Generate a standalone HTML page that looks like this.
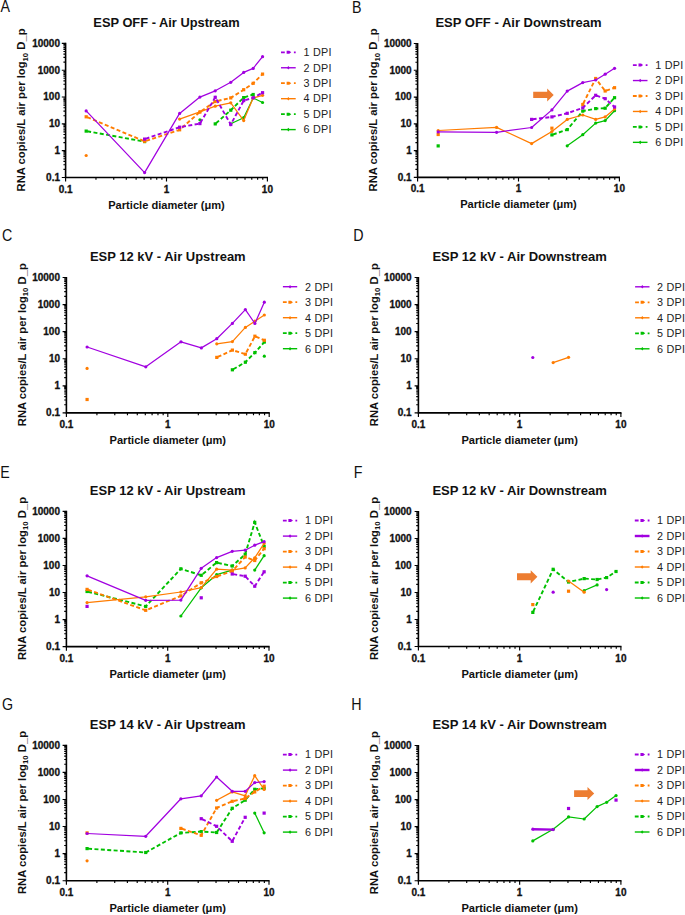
<!DOCTYPE html>
<html><head><meta charset="utf-8"><style>
html,body{margin:0;padding:0;background:#fff;}
svg{display:block;}
text{font-family:"Liberation Sans",sans-serif;}
.tk{font-size:10px;font-weight:bold;fill:#111;stroke:#111;stroke-width:0.3px;}
.xt{font-size:11.1px;font-weight:bold;fill:#111;}
.ti{font-size:13.1px;font-weight:bold;fill:#111;}
.yl{font-size:11.25px;font-weight:bold;fill:#111;}
.sub{font-size:7.8px;}
.lt{font-size:16.2px;fill:#111;}
.lg{font-size:10.8px;fill:#222;letter-spacing:0.25px;}
</style></head><body>
<svg width="685" height="915" viewBox="0 0 685 915">
<path d="M65.6 42.8V177.5H268" stroke="#000" stroke-width="1.6" fill="none"/>
<path d="M61.8 177.5H65.6M63.4 169.43H65.6M63.4 164.7H65.6M63.4 161.35H65.6M63.4 158.75H65.6M63.4 156.63H65.6M63.4 154.83H65.6M63.4 153.28H65.6M63.4 151.91H65.6M61.8 150.68H65.6M63.4 142.61H65.6M63.4 137.88H65.6M63.4 134.53H65.6M63.4 131.93H65.6M63.4 129.81H65.6M63.4 128.01H65.6M63.4 126.46H65.6M63.4 125.09H65.6M61.8 123.86H65.6M63.4 115.79H65.6M63.4 111.06H65.6M63.4 107.71H65.6M63.4 105.11H65.6M63.4 102.99H65.6M63.4 101.19H65.6M63.4 99.64H65.6M63.4 98.27H65.6M61.8 97.04H65.6M63.4 88.97H65.6M63.4 84.24H65.6M63.4 80.89H65.6M63.4 78.29H65.6M63.4 76.17H65.6M63.4 74.37H65.6M63.4 72.82H65.6M63.4 71.45H65.6M61.8 70.22H65.6M63.4 62.15H65.6M63.4 57.42H65.6M63.4 54.07H65.6M63.4 51.47H65.6M63.4 49.35H65.6M63.4 47.55H65.6M63.4 46H65.6M63.4 44.63H65.6M61.8 43.4H65.6M65.6 177.5V181.6M95.97 177.5V179.8M113.74 177.5V179.8M126.35 177.5V179.8M136.13 177.5V179.8M144.12 177.5V179.8M150.87 177.5V179.8M156.72 177.5V179.8M161.88 177.5V179.8M166.5 177.5V181.6M196.87 177.5V179.8M214.64 177.5V179.8M227.25 177.5V179.8M237.03 177.5V179.8M245.02 177.5V179.8M251.77 177.5V179.8M257.62 177.5V179.8M262.78 177.5V179.8M267.4 177.5V181.6" stroke="#000" stroke-width="1.15" fill="none"/>
<text x="60" y="180.8" class="tk" text-anchor="end">0.1</text>
<text x="60" y="153.98" class="tk" text-anchor="end">1</text>
<text x="60" y="127.16" class="tk" text-anchor="end">10</text>
<text x="60" y="100.34" class="tk" text-anchor="end">100</text>
<text x="60" y="73.52" class="tk" text-anchor="end">1000</text>
<text x="60" y="46.7" class="tk" text-anchor="end">10000</text>
<text x="65.6" y="192.5" class="tk" text-anchor="middle">0.1</text>
<text x="166.5" y="192.5" class="tk" text-anchor="middle">1</text>
<text x="267.4" y="192.5" class="tk" text-anchor="middle">10</text>
<text x="166.5" y="208.5" class="xt" text-anchor="middle">Particle diameter (μm)</text>
<text x="166.5" y="27.1" class="ti" style="font-size:12.85px" text-anchor="middle">ESP OFF - Air Upstream</text>
<text transform="translate(25,109.95) rotate(-90)" class="yl" text-anchor="middle">RNA copies/L air per log<tspan class="sub" dy="2.6">10</tspan><tspan dy="-2.6"> D_p</tspan></text>
<text transform="translate(0.6,11.7) scale(0.88,1)" class="lt">A</text>
<circle cx="199.9" cy="119.8" r="1.6" fill="#00c000"/>
<polyline points="230.77,123.8 243.69,117.7 253.17,98 262.56,102.5" fill="none" stroke="#00c000" stroke-width="1.25" stroke-linejoin="round"/>
<circle cx="230.77" cy="123.8" r="1.6" fill="#00c000"/>
<circle cx="243.69" cy="117.7" r="1.6" fill="#00c000"/>
<circle cx="253.17" cy="98" r="1.6" fill="#00c000"/>
<circle cx="262.56" cy="102.5" r="1.6" fill="#00c000"/>
<polyline points="86.18,131.1 144.6,141.6" fill="none" stroke="#00c000" stroke-width="1.9" stroke-dasharray="4 2.4" stroke-dashoffset="-1"/>
<rect x="84.58" y="129.5" width="3.2" height="3.2" fill="#00c000"/>
<rect x="143" y="140" width="3.2" height="3.2" fill="#00c000"/>
<polyline points="215.23,123.9 230.77,110.2 243.69,97.6 253.17,94.5" fill="none" stroke="#00c000" stroke-width="1.9" stroke-dasharray="4 2.4" stroke-dashoffset="-1"/>
<rect x="213.63" y="122.3" width="3.2" height="3.2" fill="#00c000"/>
<rect x="229.17" y="108.6" width="3.2" height="3.2" fill="#00c000"/>
<rect x="242.09" y="96" width="3.2" height="3.2" fill="#00c000"/>
<rect x="251.57" y="92.9" width="3.2" height="3.2" fill="#00c000"/>
<circle cx="86.18" cy="155.5" r="1.6" fill="#ff7c00"/>
<polyline points="179.62,119.1 199.9,111.9 215.23,106.2 230.77,102.8 243.69,120.6 253.17,98 262.56,95.3" fill="none" stroke="#ff7c00" stroke-width="1.25" stroke-linejoin="round"/>
<circle cx="179.62" cy="119.1" r="1.6" fill="#ff7c00"/>
<circle cx="199.9" cy="111.9" r="1.6" fill="#ff7c00"/>
<circle cx="215.23" cy="106.2" r="1.6" fill="#ff7c00"/>
<circle cx="230.77" cy="102.8" r="1.6" fill="#ff7c00"/>
<circle cx="243.69" cy="120.6" r="1.6" fill="#ff7c00"/>
<circle cx="253.17" cy="98" r="1.6" fill="#ff7c00"/>
<circle cx="262.56" cy="95.3" r="1.6" fill="#ff7c00"/>
<polyline points="86.18,116.8 144.6,141.3 179.62,129.8 199.9,112 215.23,101.5 230.77,97.9 243.69,89.7 253.17,83.3 262.56,74.1" fill="none" stroke="#ff7c00" stroke-width="1.9" stroke-dasharray="4 2.4" stroke-dashoffset="-1"/>
<rect x="84.58" y="115.2" width="3.2" height="3.2" fill="#ff7c00"/>
<rect x="143" y="139.7" width="3.2" height="3.2" fill="#ff7c00"/>
<rect x="178.02" y="128.2" width="3.2" height="3.2" fill="#ff7c00"/>
<rect x="198.3" y="110.4" width="3.2" height="3.2" fill="#ff7c00"/>
<rect x="213.63" y="99.9" width="3.2" height="3.2" fill="#ff7c00"/>
<rect x="229.17" y="96.3" width="3.2" height="3.2" fill="#ff7c00"/>
<rect x="242.09" y="88.1" width="3.2" height="3.2" fill="#ff7c00"/>
<rect x="251.57" y="81.7" width="3.2" height="3.2" fill="#ff7c00"/>
<rect x="260.96" y="72.5" width="3.2" height="3.2" fill="#ff7c00"/>
<polyline points="86.18,110.9 144.6,172.6 179.62,113.4 199.9,97.1 215.23,90.8 230.77,82.3 243.69,72.4 253.17,68.4 262.56,56.7" fill="none" stroke="#a100e0" stroke-width="1.25" stroke-linejoin="round"/>
<circle cx="86.18" cy="110.9" r="1.6" fill="#a100e0"/>
<circle cx="144.6" cy="172.6" r="1.6" fill="#a100e0"/>
<circle cx="179.62" cy="113.4" r="1.6" fill="#a100e0"/>
<circle cx="199.9" cy="97.1" r="1.6" fill="#a100e0"/>
<circle cx="215.23" cy="90.8" r="1.6" fill="#a100e0"/>
<circle cx="230.77" cy="82.3" r="1.6" fill="#a100e0"/>
<circle cx="243.69" cy="72.4" r="1.6" fill="#a100e0"/>
<circle cx="253.17" cy="68.4" r="1.6" fill="#a100e0"/>
<circle cx="262.56" cy="56.7" r="1.6" fill="#a100e0"/>
<polyline points="144.6,139.1 179.62,127.2 199.9,123.6 215.23,97.3 230.77,124.5 243.69,100.6 253.17,97.8 262.56,92.7" fill="none" stroke="#a100e0" stroke-width="1.9" stroke-dasharray="4 2.4" stroke-dashoffset="-1"/>
<rect x="143" y="137.5" width="3.2" height="3.2" fill="#a100e0"/>
<rect x="178.02" y="125.6" width="3.2" height="3.2" fill="#a100e0"/>
<rect x="198.3" y="122" width="3.2" height="3.2" fill="#a100e0"/>
<rect x="213.63" y="95.7" width="3.2" height="3.2" fill="#a100e0"/>
<rect x="229.17" y="122.9" width="3.2" height="3.2" fill="#a100e0"/>
<rect x="242.09" y="99" width="3.2" height="3.2" fill="#a100e0"/>
<rect x="251.57" y="96.2" width="3.2" height="3.2" fill="#a100e0"/>
<rect x="260.96" y="91.1" width="3.2" height="3.2" fill="#a100e0"/>
<path d="M281 52.3H284.8M293.9 52.3H295.7" stroke="#a100e0" stroke-width="1.8"/>
<path d="M286.65 50.8h2.6l2 1.5l-2 1.5h-2.6z" fill="#a100e0"/>
<text x="303.5" y="56.1" class="lg">1 DPI</text>
<path d="M281 67.76H295.7" stroke="#a100e0" stroke-width="1.4"/>
<path d="M288.35 65.96l1.4 1.8l-1.4 1.8l-1.4 -1.8z" fill="#a100e0"/>
<text x="303.5" y="71.56" class="lg">2 DPI</text>
<path d="M281 83.22H284.8M293.9 83.22H295.7" stroke="#ff7c00" stroke-width="1.8"/>
<path d="M286.65 81.72h2.6l2 1.5l-2 1.5h-2.6z" fill="#ff7c00"/>
<text x="303.5" y="87.02" class="lg">3 DPI</text>
<path d="M281 98.68H295.7" stroke="#ff7c00" stroke-width="1.4"/>
<path d="M288.35 96.88l1.4 1.8l-1.4 1.8l-1.4 -1.8z" fill="#ff7c00"/>
<text x="303.5" y="102.48" class="lg">4 DPI</text>
<path d="M281 114.14H284.8M293.9 114.14H295.7" stroke="#00c000" stroke-width="1.8"/>
<path d="M286.65 112.64h2.6l2 1.5l-2 1.5h-2.6z" fill="#00c000"/>
<text x="303.5" y="117.94" class="lg">5 DPI</text>
<path d="M281 129.6H295.7" stroke="#00c000" stroke-width="1.4"/>
<path d="M288.35 127.8l1.4 1.8l-1.4 1.8l-1.4 -1.8z" fill="#00c000"/>
<text x="303.5" y="133.4" class="lg">6 DPI</text>
<path d="M417.6 42.9V177.4H620" stroke="#000" stroke-width="1.6" fill="none"/>
<path d="M413.8 177.4H417.6M415.4 169.34H417.6M415.4 164.62H417.6M415.4 161.28H417.6M415.4 158.68H417.6M415.4 156.56H417.6M415.4 154.77H417.6M415.4 153.22H417.6M415.4 151.85H417.6M413.8 150.62H417.6M415.4 142.56H417.6M415.4 137.84H417.6M415.4 134.5H417.6M415.4 131.9H417.6M415.4 129.78H417.6M415.4 127.99H417.6M415.4 126.44H417.6M415.4 125.07H417.6M413.8 123.84H417.6M415.4 115.78H417.6M415.4 111.06H417.6M415.4 107.72H417.6M415.4 105.12H417.6M415.4 103H417.6M415.4 101.21H417.6M415.4 99.66H417.6M415.4 98.29H417.6M413.8 97.06H417.6M415.4 89H417.6M415.4 84.28H417.6M415.4 80.94H417.6M415.4 78.34H417.6M415.4 76.22H417.6M415.4 74.43H417.6M415.4 72.88H417.6M415.4 71.51H417.6M413.8 70.28H417.6M415.4 62.22H417.6M415.4 57.5H417.6M415.4 54.16H417.6M415.4 51.56H417.6M415.4 49.44H417.6M415.4 47.65H417.6M415.4 46.1H417.6M415.4 44.73H417.6M413.8 43.5H417.6M417.6 177.4V181.5M447.97 177.4V179.7M465.74 177.4V179.7M478.35 177.4V179.7M488.13 177.4V179.7M496.12 177.4V179.7M502.87 177.4V179.7M508.72 177.4V179.7M513.88 177.4V179.7M518.5 177.4V181.5M548.87 177.4V179.7M566.64 177.4V179.7M579.25 177.4V179.7M589.03 177.4V179.7M597.02 177.4V179.7M603.77 177.4V179.7M609.62 177.4V179.7M614.78 177.4V179.7M619.4 177.4V181.5" stroke="#000" stroke-width="1.15" fill="none"/>
<text x="411.7" y="180.7" class="tk" text-anchor="end">0.1</text>
<text x="411.7" y="153.92" class="tk" text-anchor="end">1</text>
<text x="411.7" y="127.14" class="tk" text-anchor="end">10</text>
<text x="411.7" y="100.36" class="tk" text-anchor="end">100</text>
<text x="411.7" y="73.58" class="tk" text-anchor="end">1000</text>
<text x="411.7" y="46.8" class="tk" text-anchor="end">10000</text>
<text x="417.6" y="192.4" class="tk" text-anchor="middle">0.1</text>
<text x="518.5" y="192.4" class="tk" text-anchor="middle">1</text>
<text x="619.4" y="192.4" class="tk" text-anchor="middle">10</text>
<text x="518.5" y="208.4" class="xt" text-anchor="middle">Particle diameter (μm)</text>
<text x="518.5" y="27.2" class="ti" style="font-size:13.0px" text-anchor="middle">ESP OFF - Air Downstream</text>
<text transform="translate(377,109.95) rotate(-90)" class="yl" text-anchor="middle">RNA copies/L air per log<tspan class="sub" dy="2.6">10</tspan><tspan dy="-2.6"> D_p</tspan></text>
<text transform="translate(352,12.6) scale(0.88,1)" class="lt">B</text>
<polyline points="567.23,145.8 582.77,134.7 595.69,123.1 605.17,120.6 614.56,110.7" fill="none" stroke="#00c000" stroke-width="1.25" stroke-linejoin="round"/>
<circle cx="567.23" cy="145.8" r="1.6" fill="#00c000"/>
<circle cx="582.77" cy="134.7" r="1.6" fill="#00c000"/>
<circle cx="595.69" cy="123.1" r="1.6" fill="#00c000"/>
<circle cx="605.17" cy="120.6" r="1.6" fill="#00c000"/>
<circle cx="614.56" cy="110.7" r="1.6" fill="#00c000"/>
<rect x="436.58" y="144.3" width="3.2" height="3.2" fill="#00c000"/>
<polyline points="551.9,134.9 567.23,129.6 582.77,111.1 595.69,108.6 605.17,108.2 614.56,97.7" fill="none" stroke="#00c000" stroke-width="1.9" stroke-dasharray="4 2.4" stroke-dashoffset="-1"/>
<rect x="550.3" y="133.3" width="3.2" height="3.2" fill="#00c000"/>
<rect x="565.63" y="128" width="3.2" height="3.2" fill="#00c000"/>
<rect x="581.17" y="109.5" width="3.2" height="3.2" fill="#00c000"/>
<rect x="594.09" y="107" width="3.2" height="3.2" fill="#00c000"/>
<rect x="603.57" y="106.6" width="3.2" height="3.2" fill="#00c000"/>
<rect x="612.96" y="96.1" width="3.2" height="3.2" fill="#00c000"/>
<polyline points="438.18,130.5 496.6,127.4 531.62,143.6 551.9,131.5 567.23,119.4 582.77,115 595.69,119.4 605.17,116.9 614.56,108.9" fill="none" stroke="#ff7c00" stroke-width="1.25" stroke-linejoin="round"/>
<circle cx="438.18" cy="130.5" r="1.6" fill="#ff7c00"/>
<circle cx="496.6" cy="127.4" r="1.6" fill="#ff7c00"/>
<circle cx="531.62" cy="143.6" r="1.6" fill="#ff7c00"/>
<circle cx="551.9" cy="131.5" r="1.6" fill="#ff7c00"/>
<circle cx="567.23" cy="119.4" r="1.6" fill="#ff7c00"/>
<circle cx="582.77" cy="115" r="1.6" fill="#ff7c00"/>
<circle cx="595.69" cy="119.4" r="1.6" fill="#ff7c00"/>
<circle cx="605.17" cy="116.9" r="1.6" fill="#ff7c00"/>
<circle cx="614.56" cy="108.9" r="1.6" fill="#ff7c00"/>
<rect x="436.58" y="132.9" width="3.2" height="3.2" fill="#ff7c00"/>
<rect x="550.3" y="126.6" width="3.2" height="3.2" fill="#ff7c00"/>
<polyline points="582.77,104.5 595.69,78.5 605.17,91 614.56,87.7" fill="none" stroke="#ff7c00" stroke-width="1.9" stroke-dasharray="4 2.4" stroke-dashoffset="-1"/>
<rect x="581.17" y="102.9" width="3.2" height="3.2" fill="#ff7c00"/>
<rect x="594.09" y="76.9" width="3.2" height="3.2" fill="#ff7c00"/>
<rect x="603.57" y="89.4" width="3.2" height="3.2" fill="#ff7c00"/>
<rect x="612.96" y="86.1" width="3.2" height="3.2" fill="#ff7c00"/>
<polyline points="438.18,131.9 496.6,132.3 531.62,127.5 551.9,109.9 567.23,91.1 582.77,82.6 595.69,80 605.17,74.2 614.56,68.3" fill="none" stroke="#a100e0" stroke-width="1.25" stroke-linejoin="round"/>
<circle cx="438.18" cy="131.9" r="1.6" fill="#a100e0"/>
<circle cx="496.6" cy="132.3" r="1.6" fill="#a100e0"/>
<circle cx="531.62" cy="127.5" r="1.6" fill="#a100e0"/>
<circle cx="551.9" cy="109.9" r="1.6" fill="#a100e0"/>
<circle cx="567.23" cy="91.1" r="1.6" fill="#a100e0"/>
<circle cx="582.77" cy="82.6" r="1.6" fill="#a100e0"/>
<circle cx="595.69" cy="80" r="1.6" fill="#a100e0"/>
<circle cx="605.17" cy="74.2" r="1.6" fill="#a100e0"/>
<circle cx="614.56" cy="68.3" r="1.6" fill="#a100e0"/>
<polyline points="531.62,119.4 551.9,116.9 567.23,113.3 582.77,107.9 595.69,95.3 605.17,98.7 614.56,107" fill="none" stroke="#a100e0" stroke-width="1.9" stroke-dasharray="4 2.4" stroke-dashoffset="-1"/>
<rect x="530.02" y="117.8" width="3.2" height="3.2" fill="#a100e0"/>
<rect x="550.3" y="115.3" width="3.2" height="3.2" fill="#a100e0"/>
<rect x="565.63" y="111.7" width="3.2" height="3.2" fill="#a100e0"/>
<rect x="581.17" y="106.3" width="3.2" height="3.2" fill="#a100e0"/>
<rect x="594.09" y="93.7" width="3.2" height="3.2" fill="#a100e0"/>
<rect x="603.57" y="97.1" width="3.2" height="3.2" fill="#a100e0"/>
<rect x="612.96" y="105.4" width="3.2" height="3.2" fill="#a100e0"/>
<path d="M533.2 91.7H547.2V88.4L553.7 94.95L547.2 101.5V98H533.2z" fill="#ed7d31"/>
<path d="M632.9 65.1H636.7M645.7 65.1H647.5" stroke="#a100e0" stroke-width="1.8"/>
<path d="M638.5 63.6h2.6l2 1.5l-2 1.5h-2.6z" fill="#a100e0"/>
<text x="655.3" y="68.9" class="lg">1 DPI</text>
<path d="M632.9 80.55H647.5" stroke="#a100e0" stroke-width="1.4"/>
<path d="M640.2 78.75l1.4 1.8l-1.4 1.8l-1.4 -1.8z" fill="#a100e0"/>
<text x="655.3" y="84.35" class="lg">2 DPI</text>
<path d="M632.9 96H636.7M645.7 96H647.5" stroke="#ff7c00" stroke-width="1.8"/>
<path d="M638.5 94.5h2.6l2 1.5l-2 1.5h-2.6z" fill="#ff7c00"/>
<text x="655.3" y="99.8" class="lg">3 DPI</text>
<path d="M632.9 111.45H647.5" stroke="#ff7c00" stroke-width="1.4"/>
<path d="M640.2 109.65l1.4 1.8l-1.4 1.8l-1.4 -1.8z" fill="#ff7c00"/>
<text x="655.3" y="115.25" class="lg">4 DPI</text>
<path d="M632.9 126.9H636.7M645.7 126.9H647.5" stroke="#00c000" stroke-width="1.8"/>
<path d="M638.5 125.4h2.6l2 1.5l-2 1.5h-2.6z" fill="#00c000"/>
<text x="655.3" y="130.7" class="lg">5 DPI</text>
<path d="M632.9 142.35H647.5" stroke="#00c000" stroke-width="1.4"/>
<path d="M640.2 140.55l1.4 1.8l-1.4 1.8l-1.4 -1.8z" fill="#00c000"/>
<text x="655.3" y="146.15" class="lg">6 DPI</text>
<path d="M66.4 276.9V412.9H269.8" stroke="#000" stroke-width="1.6" fill="none"/>
<path d="M62.6 412.9H66.4M64.2 404.75H66.4M64.2 399.98H66.4M64.2 396.6H66.4M64.2 393.97H66.4M64.2 391.83H66.4M64.2 390.01H66.4M64.2 388.44H66.4M64.2 387.06H66.4M62.6 385.82H66.4M64.2 377.67H66.4M64.2 372.9H66.4M64.2 369.52H66.4M64.2 366.89H66.4M64.2 364.75H66.4M64.2 362.93H66.4M64.2 361.36H66.4M64.2 359.98H66.4M62.6 358.74H66.4M64.2 350.59H66.4M64.2 345.82H66.4M64.2 342.44H66.4M64.2 339.81H66.4M64.2 337.67H66.4M64.2 335.85H66.4M64.2 334.28H66.4M64.2 332.9H66.4M62.6 331.66H66.4M64.2 323.51H66.4M64.2 318.74H66.4M64.2 315.36H66.4M64.2 312.73H66.4M64.2 310.59H66.4M64.2 308.77H66.4M64.2 307.2H66.4M64.2 305.82H66.4M62.6 304.58H66.4M64.2 296.43H66.4M64.2 291.66H66.4M64.2 288.28H66.4M64.2 285.65H66.4M64.2 283.51H66.4M64.2 281.69H66.4M64.2 280.12H66.4M64.2 278.74H66.4M62.6 277.5H66.4M66.4 412.9V417M96.92 412.9V415.2M114.78 412.9V415.2M127.45 412.9V415.2M137.28 412.9V415.2M145.3 412.9V415.2M152.09 412.9V415.2M157.97 412.9V415.2M163.16 412.9V415.2M167.8 412.9V417M198.32 412.9V415.2M216.18 412.9V415.2M228.85 412.9V415.2M238.68 412.9V415.2M246.7 412.9V415.2M253.49 412.9V415.2M259.37 412.9V415.2M264.56 412.9V415.2M269.2 412.9V417" stroke="#000" stroke-width="1.15" fill="none"/>
<text x="60" y="416.2" class="tk" text-anchor="end">0.1</text>
<text x="60" y="389.12" class="tk" text-anchor="end">1</text>
<text x="60" y="362.04" class="tk" text-anchor="end">10</text>
<text x="60" y="334.96" class="tk" text-anchor="end">100</text>
<text x="60" y="307.88" class="tk" text-anchor="end">1000</text>
<text x="60" y="280.8" class="tk" text-anchor="end">10000</text>
<text x="66.4" y="427.9" class="tk" text-anchor="middle">0.1</text>
<text x="167.8" y="427.9" class="tk" text-anchor="middle">1</text>
<text x="269.2" y="427.9" class="tk" text-anchor="middle">10</text>
<text x="167.8" y="443.9" class="xt" text-anchor="middle">Particle diameter (μm)</text>
<text x="167.8" y="261.2" class="ti" style="font-size:12.97px" text-anchor="middle">ESP 12 kV - Air Upstream</text>
<text transform="translate(25.8,344.7) rotate(-90)" class="yl" text-anchor="middle">RNA copies/L air per log<tspan class="sub" dy="2.6">10</tspan><tspan dy="-2.6"> D_p</tspan></text>
<text transform="translate(1.9,241.1) scale(0.88,1)" class="lt">C</text>
<circle cx="264.33" cy="356.2" r="1.6" fill="#00c000"/>
<polyline points="232.39,369.8 245.37,362.2 254.9,352.6 264.33,342" fill="none" stroke="#00c000" stroke-width="1.9" stroke-dasharray="4 2.4" stroke-dashoffset="-1"/>
<rect x="230.79" y="368.2" width="3.2" height="3.2" fill="#00c000"/>
<rect x="243.77" y="360.6" width="3.2" height="3.2" fill="#00c000"/>
<rect x="253.3" y="351" width="3.2" height="3.2" fill="#00c000"/>
<rect x="262.73" y="340.4" width="3.2" height="3.2" fill="#00c000"/>
<circle cx="87.09" cy="368.4" r="1.6" fill="#ff7c00"/>
<polyline points="216.78,343.8 232.39,341.6 245.37,327.4 254.9,321.2 264.33,315" fill="none" stroke="#ff7c00" stroke-width="1.25" stroke-linejoin="round"/>
<circle cx="216.78" cy="343.8" r="1.6" fill="#ff7c00"/>
<circle cx="232.39" cy="341.6" r="1.6" fill="#ff7c00"/>
<circle cx="245.37" cy="327.4" r="1.6" fill="#ff7c00"/>
<circle cx="254.9" cy="321.2" r="1.6" fill="#ff7c00"/>
<circle cx="264.33" cy="315" r="1.6" fill="#ff7c00"/>
<rect x="85.49" y="397.9" width="3.2" height="3.2" fill="#ff7c00"/>
<polyline points="216.78,357.4 232.39,350.1 245.37,354.2 254.9,336.2 264.33,340.3" fill="none" stroke="#ff7c00" stroke-width="1.9" stroke-dasharray="4 2.4" stroke-dashoffset="-1"/>
<rect x="215.18" y="355.8" width="3.2" height="3.2" fill="#ff7c00"/>
<rect x="230.79" y="348.5" width="3.2" height="3.2" fill="#ff7c00"/>
<rect x="243.77" y="352.6" width="3.2" height="3.2" fill="#ff7c00"/>
<rect x="253.3" y="334.6" width="3.2" height="3.2" fill="#ff7c00"/>
<rect x="262.73" y="338.7" width="3.2" height="3.2" fill="#ff7c00"/>
<polyline points="87.09,347 145.8,366.8 180.98,341.8 201.36,347.9 216.78,338.7 232.39,323.4 245.37,309.6 254.9,323.5 264.33,302.2" fill="none" stroke="#a100e0" stroke-width="1.25" stroke-linejoin="round"/>
<circle cx="87.09" cy="347" r="1.6" fill="#a100e0"/>
<circle cx="145.8" cy="366.8" r="1.6" fill="#a100e0"/>
<circle cx="180.98" cy="341.8" r="1.6" fill="#a100e0"/>
<circle cx="201.36" cy="347.9" r="1.6" fill="#a100e0"/>
<circle cx="216.78" cy="338.7" r="1.6" fill="#a100e0"/>
<circle cx="232.39" cy="323.4" r="1.6" fill="#a100e0"/>
<circle cx="245.37" cy="309.6" r="1.6" fill="#a100e0"/>
<circle cx="254.9" cy="323.5" r="1.6" fill="#a100e0"/>
<circle cx="264.33" cy="302.2" r="1.6" fill="#a100e0"/>
<path d="M282.9 286.7H297.2" stroke="#a100e0" stroke-width="1.4"/>
<path d="M290.05 284.9l1.4 1.8l-1.4 1.8l-1.4 -1.8z" fill="#a100e0"/>
<text x="304.9" y="290.5" class="lg">2 DPI</text>
<path d="M282.9 302.2H286.7M295.4 302.2H297.2" stroke="#ff7c00" stroke-width="1.8"/>
<path d="M288.35 300.7h2.6l2 1.5l-2 1.5h-2.6z" fill="#ff7c00"/>
<text x="304.9" y="306" class="lg">3 DPI</text>
<path d="M282.9 317.7H297.2" stroke="#ff7c00" stroke-width="1.4"/>
<path d="M290.05 315.9l1.4 1.8l-1.4 1.8l-1.4 -1.8z" fill="#ff7c00"/>
<text x="304.9" y="321.5" class="lg">4 DPI</text>
<path d="M282.9 333.2H286.7M295.4 333.2H297.2" stroke="#00c000" stroke-width="1.8"/>
<path d="M288.35 331.7h2.6l2 1.5l-2 1.5h-2.6z" fill="#00c000"/>
<text x="304.9" y="337" class="lg">5 DPI</text>
<path d="M282.9 348.7H297.2" stroke="#00c000" stroke-width="1.4"/>
<path d="M290.05 346.9l1.4 1.8l-1.4 1.8l-1.4 -1.8z" fill="#00c000"/>
<text x="304.9" y="352.5" class="lg">6 DPI</text>
<path d="M418.4 276.9V412.9H621.5" stroke="#000" stroke-width="1.6" fill="none"/>
<path d="M414.6 412.9H418.4M416.2 404.75H418.4M416.2 399.98H418.4M416.2 396.6H418.4M416.2 393.97H418.4M416.2 391.83H418.4M416.2 390.01H418.4M416.2 388.44H418.4M416.2 387.06H418.4M414.6 385.82H418.4M416.2 377.67H418.4M416.2 372.9H418.4M416.2 369.52H418.4M416.2 366.89H418.4M416.2 364.75H418.4M416.2 362.93H418.4M416.2 361.36H418.4M416.2 359.98H418.4M414.6 358.74H418.4M416.2 350.59H418.4M416.2 345.82H418.4M416.2 342.44H418.4M416.2 339.81H418.4M416.2 337.67H418.4M416.2 335.85H418.4M416.2 334.28H418.4M416.2 332.9H418.4M414.6 331.66H418.4M416.2 323.51H418.4M416.2 318.74H418.4M416.2 315.36H418.4M416.2 312.73H418.4M416.2 310.59H418.4M416.2 308.77H418.4M416.2 307.2H418.4M416.2 305.82H418.4M414.6 304.58H418.4M416.2 296.43H418.4M416.2 291.66H418.4M416.2 288.28H418.4M416.2 285.65H418.4M416.2 283.51H418.4M416.2 281.69H418.4M416.2 280.12H418.4M416.2 278.74H418.4M414.6 277.5H418.4M418.4 412.9V417M448.88 412.9V415.2M466.71 412.9V415.2M479.36 412.9V415.2M489.17 412.9V415.2M497.19 412.9V415.2M503.97 412.9V415.2M509.84 412.9V415.2M515.02 412.9V415.2M519.65 412.9V417M550.13 412.9V415.2M567.96 412.9V415.2M580.61 412.9V415.2M590.42 412.9V415.2M598.44 412.9V415.2M605.22 412.9V415.2M611.09 412.9V415.2M616.27 412.9V415.2M620.9 412.9V417" stroke="#000" stroke-width="1.15" fill="none"/>
<text x="411.7" y="416.2" class="tk" text-anchor="end">0.1</text>
<text x="411.7" y="389.12" class="tk" text-anchor="end">1</text>
<text x="411.7" y="362.04" class="tk" text-anchor="end">10</text>
<text x="411.7" y="334.96" class="tk" text-anchor="end">100</text>
<text x="411.7" y="307.88" class="tk" text-anchor="end">1000</text>
<text x="411.7" y="280.8" class="tk" text-anchor="end">10000</text>
<text x="418.4" y="427.9" class="tk" text-anchor="middle">0.1</text>
<text x="519.65" y="427.9" class="tk" text-anchor="middle">1</text>
<text x="620.9" y="427.9" class="tk" text-anchor="middle">10</text>
<text x="519.65" y="443.9" class="xt" text-anchor="middle">Particle diameter (μm)</text>
<text x="519.65" y="261.2" class="ti" style="font-size:13.04px" text-anchor="middle">ESP 12 kV - Air Downstream</text>
<text transform="translate(377.8,344.7) rotate(-90)" class="yl" text-anchor="middle">RNA copies/L air per log<tspan class="sub" dy="2.6">10</tspan><tspan dy="-2.6"> D_p</tspan></text>
<text transform="translate(353.3,241.1) scale(0.88,1)" class="lt">D</text>
<polyline points="553.16,362.6 568.55,357.3" fill="none" stroke="#ff7c00" stroke-width="1.25" stroke-linejoin="round"/>
<circle cx="553.16" cy="362.6" r="1.6" fill="#ff7c00"/>
<circle cx="568.55" cy="357.3" r="1.6" fill="#ff7c00"/>
<circle cx="532.81" cy="357.5" r="1.6" fill="#a100e0"/>
<path d="M635.1 286.8H649.5" stroke="#a100e0" stroke-width="1.4"/>
<path d="M642.3 285l1.4 1.8l-1.4 1.8l-1.4 -1.8z" fill="#a100e0"/>
<text x="657" y="290.6" class="lg">2 DPI</text>
<path d="M635.1 302.3H638.9M647.7 302.3H649.5" stroke="#ff7c00" stroke-width="1.8"/>
<path d="M640.6 300.8h2.6l2 1.5l-2 1.5h-2.6z" fill="#ff7c00"/>
<text x="657" y="306.1" class="lg">3 DPI</text>
<path d="M635.1 317.8H649.5" stroke="#ff7c00" stroke-width="1.4"/>
<path d="M642.3 316l1.4 1.8l-1.4 1.8l-1.4 -1.8z" fill="#ff7c00"/>
<text x="657" y="321.6" class="lg">4 DPI</text>
<path d="M635.1 333.3H638.9M647.7 333.3H649.5" stroke="#00c000" stroke-width="1.8"/>
<path d="M640.6 331.8h2.6l2 1.5l-2 1.5h-2.6z" fill="#00c000"/>
<text x="657" y="337.1" class="lg">5 DPI</text>
<path d="M635.1 348.8H649.5" stroke="#00c000" stroke-width="1.4"/>
<path d="M642.3 347l1.4 1.8l-1.4 1.8l-1.4 -1.8z" fill="#00c000"/>
<text x="657" y="352.6" class="lg">6 DPI</text>
<path d="M66.4 510.8V646.6H269.6" stroke="#000" stroke-width="1.6" fill="none"/>
<path d="M62.6 646.6H66.4M64.2 638.46H66.4M64.2 633.7H66.4M64.2 630.32H66.4M64.2 627.7H66.4M64.2 625.56H66.4M64.2 623.75H66.4M64.2 622.18H66.4M64.2 620.8H66.4M62.6 619.56H66.4M64.2 611.42H66.4M64.2 606.66H66.4M64.2 603.28H66.4M64.2 600.66H66.4M64.2 598.52H66.4M64.2 596.71H66.4M64.2 595.14H66.4M64.2 593.76H66.4M62.6 592.52H66.4M64.2 584.38H66.4M64.2 579.62H66.4M64.2 576.24H66.4M64.2 573.62H66.4M64.2 571.48H66.4M64.2 569.67H66.4M64.2 568.1H66.4M64.2 566.72H66.4M62.6 565.48H66.4M64.2 557.34H66.4M64.2 552.58H66.4M64.2 549.2H66.4M64.2 546.58H66.4M64.2 544.44H66.4M64.2 542.63H66.4M64.2 541.06H66.4M64.2 539.68H66.4M62.6 538.44H66.4M64.2 530.3H66.4M64.2 525.54H66.4M64.2 522.16H66.4M64.2 519.54H66.4M64.2 517.4H66.4M64.2 515.59H66.4M64.2 514.02H66.4M64.2 512.64H66.4M62.6 511.4H66.4M66.4 646.6V650.7M96.89 646.6V648.9M114.73 646.6V648.9M127.39 646.6V648.9M137.21 646.6V648.9M145.23 646.6V648.9M152.01 646.6V648.9M157.88 646.6V648.9M163.06 646.6V648.9M167.7 646.6V650.7M198.19 646.6V648.9M216.03 646.6V648.9M228.69 646.6V648.9M238.51 646.6V648.9M246.53 646.6V648.9M253.31 646.6V648.9M259.18 646.6V648.9M264.36 646.6V648.9M269 646.6V650.7" stroke="#000" stroke-width="1.15" fill="none"/>
<text x="60" y="649.9" class="tk" text-anchor="end">0.1</text>
<text x="60" y="622.86" class="tk" text-anchor="end">1</text>
<text x="60" y="595.82" class="tk" text-anchor="end">10</text>
<text x="60" y="568.78" class="tk" text-anchor="end">100</text>
<text x="60" y="541.74" class="tk" text-anchor="end">1000</text>
<text x="60" y="514.7" class="tk" text-anchor="end">10000</text>
<text x="66.4" y="661.6" class="tk" text-anchor="middle">0.1</text>
<text x="167.7" y="661.6" class="tk" text-anchor="middle">1</text>
<text x="269" y="661.6" class="tk" text-anchor="middle">10</text>
<text x="167.7" y="677.6" class="xt" text-anchor="middle">Particle diameter (μm)</text>
<text x="167.7" y="495.1" class="ti" style="font-size:12.97px" text-anchor="middle">ESP 12 kV - Air Upstream</text>
<text transform="translate(25.8,578.5) rotate(-90)" class="yl" text-anchor="middle">RNA copies/L air per log<tspan class="sub" dy="2.6">10</tspan><tspan dy="-2.6"> D_p</tspan></text>
<text transform="translate(0.3,478.1) scale(0.88,1)" class="lt">E</text>
<polyline points="180.87,616 201.23,587.8 216.63,574.7 232.23,570.1" fill="none" stroke="#00c000" stroke-width="1.25" stroke-linejoin="round"/>
<circle cx="180.87" cy="616" r="1.6" fill="#00c000"/>
<circle cx="201.23" cy="587.8" r="1.6" fill="#00c000"/>
<circle cx="216.63" cy="574.7" r="1.6" fill="#00c000"/>
<circle cx="232.23" cy="570.1" r="1.6" fill="#00c000"/>
<polyline points="254.72,570.1 264.14,555.7" fill="none" stroke="#00c000" stroke-width="1.25" stroke-linejoin="round"/>
<circle cx="254.72" cy="570.1" r="1.6" fill="#00c000"/>
<circle cx="264.14" cy="555.7" r="1.6" fill="#00c000"/>
<polyline points="87.07,591.5 145.72,606.4 180.87,568.8 201.23,575.3 216.63,562.6 232.23,566 245.19,554.3 254.72,522.4 264.14,546.5" fill="none" stroke="#00c000" stroke-width="1.9" stroke-dasharray="4 2.4" stroke-dashoffset="-1"/>
<rect x="85.47" y="589.9" width="3.2" height="3.2" fill="#00c000"/>
<rect x="144.12" y="604.8" width="3.2" height="3.2" fill="#00c000"/>
<rect x="179.27" y="567.2" width="3.2" height="3.2" fill="#00c000"/>
<rect x="199.63" y="573.7" width="3.2" height="3.2" fill="#00c000"/>
<rect x="215.03" y="561" width="3.2" height="3.2" fill="#00c000"/>
<rect x="230.63" y="564.4" width="3.2" height="3.2" fill="#00c000"/>
<rect x="243.59" y="552.7" width="3.2" height="3.2" fill="#00c000"/>
<rect x="253.12" y="520.8" width="3.2" height="3.2" fill="#00c000"/>
<rect x="262.54" y="544.9" width="3.2" height="3.2" fill="#00c000"/>
<polyline points="87.07,602.6 145.72,596.8 180.87,592 201.23,587.6 216.63,569.2 232.23,570.2 245.19,567.9 254.72,557.8 264.14,543.4" fill="none" stroke="#ff7c00" stroke-width="1.25" stroke-linejoin="round"/>
<circle cx="87.07" cy="602.6" r="1.6" fill="#ff7c00"/>
<circle cx="145.72" cy="596.8" r="1.6" fill="#ff7c00"/>
<circle cx="180.87" cy="592" r="1.6" fill="#ff7c00"/>
<circle cx="201.23" cy="587.6" r="1.6" fill="#ff7c00"/>
<circle cx="216.63" cy="569.2" r="1.6" fill="#ff7c00"/>
<circle cx="232.23" cy="570.2" r="1.6" fill="#ff7c00"/>
<circle cx="245.19" cy="567.9" r="1.6" fill="#ff7c00"/>
<circle cx="254.72" cy="557.8" r="1.6" fill="#ff7c00"/>
<circle cx="264.14" cy="543.4" r="1.6" fill="#ff7c00"/>
<polyline points="87.07,589.4 145.72,610.3 180.87,595.9 201.23,582.8 216.63,576.5 232.23,571.2 245.19,557 254.72,560.5 264.14,548.7" fill="none" stroke="#ff7c00" stroke-width="1.9" stroke-dasharray="4 2.4" stroke-dashoffset="-1"/>
<rect x="85.47" y="587.8" width="3.2" height="3.2" fill="#ff7c00"/>
<rect x="144.12" y="608.7" width="3.2" height="3.2" fill="#ff7c00"/>
<rect x="179.27" y="594.3" width="3.2" height="3.2" fill="#ff7c00"/>
<rect x="199.63" y="581.2" width="3.2" height="3.2" fill="#ff7c00"/>
<rect x="215.03" y="574.9" width="3.2" height="3.2" fill="#ff7c00"/>
<rect x="230.63" y="569.6" width="3.2" height="3.2" fill="#ff7c00"/>
<rect x="243.59" y="555.4" width="3.2" height="3.2" fill="#ff7c00"/>
<rect x="253.12" y="558.9" width="3.2" height="3.2" fill="#ff7c00"/>
<rect x="262.54" y="547.1" width="3.2" height="3.2" fill="#ff7c00"/>
<polyline points="87.07,575.8 145.72,600.3 180.87,600.1 201.23,568.3 216.63,557.6 232.23,551.3 245.19,550.2 254.72,545.2 264.14,541.7" fill="none" stroke="#a100e0" stroke-width="1.25" stroke-linejoin="round"/>
<circle cx="87.07" cy="575.8" r="1.6" fill="#a100e0"/>
<circle cx="145.72" cy="600.3" r="1.6" fill="#a100e0"/>
<circle cx="180.87" cy="600.1" r="1.6" fill="#a100e0"/>
<circle cx="201.23" cy="568.3" r="1.6" fill="#a100e0"/>
<circle cx="216.63" cy="557.6" r="1.6" fill="#a100e0"/>
<circle cx="232.23" cy="551.3" r="1.6" fill="#a100e0"/>
<circle cx="245.19" cy="550.2" r="1.6" fill="#a100e0"/>
<circle cx="254.72" cy="545.2" r="1.6" fill="#a100e0"/>
<circle cx="264.14" cy="541.7" r="1.6" fill="#a100e0"/>
<rect x="85.47" y="604.8" width="3.2" height="3.2" fill="#a100e0"/>
<rect x="199.63" y="596.2" width="3.2" height="3.2" fill="#a100e0"/>
<polyline points="232.23,574 245.19,576.2 254.72,586.2 264.14,571.8" fill="none" stroke="#a100e0" stroke-width="1.9" stroke-dasharray="4 2.4" stroke-dashoffset="-1"/>
<rect x="230.63" y="572.4" width="3.2" height="3.2" fill="#a100e0"/>
<rect x="243.59" y="574.6" width="3.2" height="3.2" fill="#a100e0"/>
<rect x="253.12" y="584.6" width="3.2" height="3.2" fill="#a100e0"/>
<rect x="262.54" y="570.2" width="3.2" height="3.2" fill="#a100e0"/>
<path d="M282.9 520.6H286.7M295.4 520.6H297.2" stroke="#a100e0" stroke-width="1.8"/>
<path d="M288.35 519.1h2.6l2 1.5l-2 1.5h-2.6z" fill="#a100e0"/>
<text x="304.9" y="524.4" class="lg">1 DPI</text>
<path d="M282.9 536.1H297.2" stroke="#a100e0" stroke-width="1.4"/>
<path d="M290.05 534.3l1.4 1.8l-1.4 1.8l-1.4 -1.8z" fill="#a100e0"/>
<text x="304.9" y="539.9" class="lg">2 DPI</text>
<path d="M282.9 551.6H286.7M295.4 551.6H297.2" stroke="#ff7c00" stroke-width="1.8"/>
<path d="M288.35 550.1h2.6l2 1.5l-2 1.5h-2.6z" fill="#ff7c00"/>
<text x="304.9" y="555.4" class="lg">3 DPI</text>
<path d="M282.9 567.1H297.2" stroke="#ff7c00" stroke-width="1.4"/>
<path d="M290.05 565.3l1.4 1.8l-1.4 1.8l-1.4 -1.8z" fill="#ff7c00"/>
<text x="304.9" y="570.9" class="lg">4 DPI</text>
<path d="M282.9 582.6H286.7M295.4 582.6H297.2" stroke="#00c000" stroke-width="1.8"/>
<path d="M288.35 581.1h2.6l2 1.5l-2 1.5h-2.6z" fill="#00c000"/>
<text x="304.9" y="586.4" class="lg">5 DPI</text>
<path d="M282.9 598.1H297.2" stroke="#00c000" stroke-width="1.4"/>
<path d="M290.05 596.3l1.4 1.8l-1.4 1.8l-1.4 -1.8z" fill="#00c000"/>
<text x="304.9" y="601.9" class="lg">6 DPI</text>
<path d="M418.4 510.9V646.5H621.5" stroke="#000" stroke-width="1.6" fill="none"/>
<path d="M414.6 646.5H418.4M416.2 638.37H418.4M416.2 633.62H418.4M416.2 630.24H418.4M416.2 627.63H418.4M416.2 625.49H418.4M416.2 623.68H418.4M416.2 622.12H418.4M416.2 620.74H418.4M414.6 619.5H418.4M416.2 611.37H418.4M416.2 606.62H418.4M416.2 603.24H418.4M416.2 600.63H418.4M416.2 598.49H418.4M416.2 596.68H418.4M416.2 595.12H418.4M416.2 593.74H418.4M414.6 592.5H418.4M416.2 584.37H418.4M416.2 579.62H418.4M416.2 576.24H418.4M416.2 573.63H418.4M416.2 571.49H418.4M416.2 569.68H418.4M416.2 568.12H418.4M416.2 566.74H418.4M414.6 565.5H418.4M416.2 557.37H418.4M416.2 552.62H418.4M416.2 549.24H418.4M416.2 546.63H418.4M416.2 544.49H418.4M416.2 542.68H418.4M416.2 541.12H418.4M416.2 539.74H418.4M414.6 538.5H418.4M416.2 530.37H418.4M416.2 525.62H418.4M416.2 522.24H418.4M416.2 519.63H418.4M416.2 517.49H418.4M416.2 515.68H418.4M416.2 514.12H418.4M416.2 512.74H418.4M414.6 511.5H418.4M418.4 646.5V650.6M448.88 646.5V648.8M466.71 646.5V648.8M479.36 646.5V648.8M489.17 646.5V648.8M497.19 646.5V648.8M503.97 646.5V648.8M509.84 646.5V648.8M515.02 646.5V648.8M519.65 646.5V650.6M550.13 646.5V648.8M567.96 646.5V648.8M580.61 646.5V648.8M590.42 646.5V648.8M598.44 646.5V648.8M605.22 646.5V648.8M611.09 646.5V648.8M616.27 646.5V648.8M620.9 646.5V650.6" stroke="#000" stroke-width="1.15" fill="none"/>
<text x="411.7" y="649.8" class="tk" text-anchor="end">0.1</text>
<text x="411.7" y="622.8" class="tk" text-anchor="end">1</text>
<text x="411.7" y="595.8" class="tk" text-anchor="end">10</text>
<text x="411.7" y="568.8" class="tk" text-anchor="end">100</text>
<text x="411.7" y="541.8" class="tk" text-anchor="end">1000</text>
<text x="411.7" y="514.8" class="tk" text-anchor="end">10000</text>
<text x="418.4" y="661.5" class="tk" text-anchor="middle">0.1</text>
<text x="519.65" y="661.5" class="tk" text-anchor="middle">1</text>
<text x="620.9" y="661.5" class="tk" text-anchor="middle">10</text>
<text x="519.65" y="677.5" class="xt" text-anchor="middle">Particle diameter (μm)</text>
<text x="519.65" y="495.2" class="ti" style="font-size:13.04px" text-anchor="middle">ESP 12 kV - Air Downstream</text>
<text transform="translate(377.8,578.5) rotate(-90)" class="yl" text-anchor="middle">RNA copies/L air per log<tspan class="sub" dy="2.6">10</tspan><tspan dy="-2.6"> D_p</tspan></text>
<text transform="translate(353.7,477.8) scale(0.88,1)" class="lt">F</text>
<polyline points="584.15,590.5 597.11,584.9" fill="none" stroke="#00c000" stroke-width="1.25" stroke-linejoin="round"/>
<circle cx="584.15" cy="590.5" r="1.6" fill="#00c000"/>
<circle cx="597.11" cy="584.9" r="1.6" fill="#00c000"/>
<polyline points="532.81,612.4 553.16,569.3 568.55,582 584.15,578.6 597.11,579.5 606.62,577.6 616.04,571.5" fill="none" stroke="#00c000" stroke-width="1.9" stroke-dasharray="4 2.4" stroke-dashoffset="-1"/>
<rect x="531.21" y="610.8" width="3.2" height="3.2" fill="#00c000"/>
<rect x="551.56" y="567.7" width="3.2" height="3.2" fill="#00c000"/>
<rect x="566.95" y="580.4" width="3.2" height="3.2" fill="#00c000"/>
<rect x="582.55" y="577" width="3.2" height="3.2" fill="#00c000"/>
<rect x="595.51" y="577.9" width="3.2" height="3.2" fill="#00c000"/>
<rect x="605.02" y="576" width="3.2" height="3.2" fill="#00c000"/>
<rect x="614.44" y="569.9" width="3.2" height="3.2" fill="#00c000"/>
<polyline points="568.55,581 584.15,592.2" fill="none" stroke="#ff7c00" stroke-width="1.25" stroke-linejoin="round"/>
<circle cx="568.55" cy="581" r="1.6" fill="#ff7c00"/>
<circle cx="584.15" cy="592.2" r="1.6" fill="#ff7c00"/>
<rect x="531.21" y="603" width="3.2" height="3.2" fill="#ff7c00"/>
<rect x="566.95" y="589.6" width="3.2" height="3.2" fill="#ff7c00"/>
<circle cx="553.16" cy="592.2" r="1.6" fill="#a100e0"/>
<circle cx="606.62" cy="589.6" r="1.6" fill="#a100e0"/>
<path d="M517 573.2H530.7V570.3L537.4 576.85L530.7 583.4V580.3H517z" fill="#ed7d31"/>
<path d="M634.8 520.5H638.6M647.7 520.5H649.5" stroke="#a100e0" stroke-width="1.8"/>
<path d="M640.45 519h2.6l2 1.5l-2 1.5h-2.6z" fill="#a100e0"/>
<text x="657" y="524.3" class="lg">1 DPI</text>
<path d="M634.8 536H649.5" stroke="#a100e0" stroke-width="2.4"/>
<path d="M642.15 534.2l1.4 1.8l-1.4 1.8l-1.4 -1.8z" fill="#a100e0"/>
<text x="657" y="539.8" class="lg">2 DPI</text>
<path d="M634.8 551.5H638.6M647.7 551.5H649.5" stroke="#ff7c00" stroke-width="1.8"/>
<path d="M640.45 550h2.6l2 1.5l-2 1.5h-2.6z" fill="#ff7c00"/>
<text x="657" y="555.3" class="lg">3 DPI</text>
<path d="M634.8 567H649.5" stroke="#ff7c00" stroke-width="1.4"/>
<path d="M642.15 565.2l1.4 1.8l-1.4 1.8l-1.4 -1.8z" fill="#ff7c00"/>
<text x="657" y="570.8" class="lg">4 DPI</text>
<path d="M634.8 582.5H638.6M647.7 582.5H649.5" stroke="#00c000" stroke-width="1.8"/>
<path d="M640.45 581h2.6l2 1.5l-2 1.5h-2.6z" fill="#00c000"/>
<text x="657" y="586.3" class="lg">5 DPI</text>
<path d="M634.8 598H649.5" stroke="#00c000" stroke-width="1.4"/>
<path d="M642.15 596.2l1.4 1.8l-1.4 1.8l-1.4 -1.8z" fill="#00c000"/>
<text x="657" y="601.8" class="lg">6 DPI</text>
<path d="M66.4 744.7V880.7H269.6" stroke="#000" stroke-width="1.6" fill="none"/>
<path d="M62.6 880.7H66.4M64.2 872.55H66.4M64.2 867.78H66.4M64.2 864.4H66.4M64.2 861.77H66.4M64.2 859.63H66.4M64.2 857.81H66.4M64.2 856.24H66.4M64.2 854.86H66.4M62.6 853.62H66.4M64.2 845.47H66.4M64.2 840.7H66.4M64.2 837.32H66.4M64.2 834.69H66.4M64.2 832.55H66.4M64.2 830.73H66.4M64.2 829.16H66.4M64.2 827.78H66.4M62.6 826.54H66.4M64.2 818.39H66.4M64.2 813.62H66.4M64.2 810.24H66.4M64.2 807.61H66.4M64.2 805.47H66.4M64.2 803.65H66.4M64.2 802.08H66.4M64.2 800.7H66.4M62.6 799.46H66.4M64.2 791.31H66.4M64.2 786.54H66.4M64.2 783.16H66.4M64.2 780.53H66.4M64.2 778.39H66.4M64.2 776.57H66.4M64.2 775H66.4M64.2 773.62H66.4M62.6 772.38H66.4M64.2 764.23H66.4M64.2 759.46H66.4M64.2 756.08H66.4M64.2 753.45H66.4M64.2 751.31H66.4M64.2 749.49H66.4M64.2 747.92H66.4M64.2 746.54H66.4M62.6 745.3H66.4M66.4 880.7V884.8M96.89 880.7V883M114.73 880.7V883M127.39 880.7V883M137.21 880.7V883M145.23 880.7V883M152.01 880.7V883M157.88 880.7V883M163.06 880.7V883M167.7 880.7V884.8M198.19 880.7V883M216.03 880.7V883M228.69 880.7V883M238.51 880.7V883M246.53 880.7V883M253.31 880.7V883M259.18 880.7V883M264.36 880.7V883M269 880.7V884.8" stroke="#000" stroke-width="1.15" fill="none"/>
<text x="60" y="884" class="tk" text-anchor="end">0.1</text>
<text x="60" y="856.92" class="tk" text-anchor="end">1</text>
<text x="60" y="829.84" class="tk" text-anchor="end">10</text>
<text x="60" y="802.76" class="tk" text-anchor="end">100</text>
<text x="60" y="775.68" class="tk" text-anchor="end">1000</text>
<text x="60" y="748.6" class="tk" text-anchor="end">10000</text>
<text x="66.4" y="895.7" class="tk" text-anchor="middle">0.1</text>
<text x="167.7" y="895.7" class="tk" text-anchor="middle">1</text>
<text x="269" y="895.7" class="tk" text-anchor="middle">10</text>
<text x="167.7" y="911.7" class="xt" text-anchor="middle">Particle diameter (μm)</text>
<text x="167.7" y="729" class="ti" style="font-size:12.97px" text-anchor="middle">ESP 14 kV - Air Upstream</text>
<text transform="translate(25.8,812.5) rotate(-90)" class="yl" text-anchor="middle">RNA copies/L air per log<tspan class="sub" dy="2.6">10</tspan><tspan dy="-2.6"> D_p</tspan></text>
<text transform="translate(1.9,710.4) scale(0.88,1)" class="lt">G</text>
<polyline points="254.72,813.1 264.14,832.8" fill="none" stroke="#00c000" stroke-width="1.25" stroke-linejoin="round"/>
<circle cx="254.72" cy="813.1" r="1.6" fill="#00c000"/>
<circle cx="264.14" cy="832.8" r="1.6" fill="#00c000"/>
<polyline points="87.07,848.6 145.72,852.5 180.87,832.9 201.23,831.6 216.63,832.5 232.23,808.3 245.19,800.2 254.72,789.3 264.14,788.2" fill="none" stroke="#00c000" stroke-width="1.9" stroke-dasharray="4 2.4" stroke-dashoffset="-1"/>
<rect x="85.47" y="847" width="3.2" height="3.2" fill="#00c000"/>
<rect x="144.12" y="850.9" width="3.2" height="3.2" fill="#00c000"/>
<rect x="179.27" y="831.3" width="3.2" height="3.2" fill="#00c000"/>
<rect x="199.63" y="830" width="3.2" height="3.2" fill="#00c000"/>
<rect x="215.03" y="830.9" width="3.2" height="3.2" fill="#00c000"/>
<rect x="230.63" y="806.7" width="3.2" height="3.2" fill="#00c000"/>
<rect x="243.59" y="798.6" width="3.2" height="3.2" fill="#00c000"/>
<rect x="253.12" y="787.7" width="3.2" height="3.2" fill="#00c000"/>
<rect x="262.54" y="786.6" width="3.2" height="3.2" fill="#00c000"/>
<circle cx="87.07" cy="860.8" r="1.6" fill="#ff7c00"/>
<polyline points="216.63,800.3 232.23,791.9 245.19,795.8 254.72,775.7 264.14,789.5" fill="none" stroke="#ff7c00" stroke-width="1.25" stroke-linejoin="round"/>
<circle cx="216.63" cy="800.3" r="1.6" fill="#ff7c00"/>
<circle cx="232.23" cy="791.9" r="1.6" fill="#ff7c00"/>
<circle cx="245.19" cy="795.8" r="1.6" fill="#ff7c00"/>
<circle cx="254.72" cy="775.7" r="1.6" fill="#ff7c00"/>
<circle cx="264.14" cy="789.5" r="1.6" fill="#ff7c00"/>
<rect x="85.47" y="831.3" width="3.2" height="3.2" fill="#ff7c00"/>
<polyline points="180.87,828.4 201.23,835.3 216.63,808 232.23,801.3 245.19,798.5 254.72,791.9 264.14,786.2" fill="none" stroke="#ff7c00" stroke-width="1.9" stroke-dasharray="4 2.4" stroke-dashoffset="-1"/>
<rect x="179.27" y="826.8" width="3.2" height="3.2" fill="#ff7c00"/>
<rect x="199.63" y="833.7" width="3.2" height="3.2" fill="#ff7c00"/>
<rect x="215.03" y="806.4" width="3.2" height="3.2" fill="#ff7c00"/>
<rect x="230.63" y="799.7" width="3.2" height="3.2" fill="#ff7c00"/>
<rect x="243.59" y="796.9" width="3.2" height="3.2" fill="#ff7c00"/>
<rect x="253.12" y="790.3" width="3.2" height="3.2" fill="#ff7c00"/>
<rect x="262.54" y="784.6" width="3.2" height="3.2" fill="#ff7c00"/>
<polyline points="87.07,833.5 145.72,836.3 180.87,798.8 201.23,795.8 216.63,777 232.23,791.3 245.19,791.3 254.72,782.6 264.14,781.6" fill="none" stroke="#a100e0" stroke-width="1.25" stroke-linejoin="round"/>
<circle cx="87.07" cy="833.5" r="1.6" fill="#a100e0"/>
<circle cx="145.72" cy="836.3" r="1.6" fill="#a100e0"/>
<circle cx="180.87" cy="798.8" r="1.6" fill="#a100e0"/>
<circle cx="201.23" cy="795.8" r="1.6" fill="#a100e0"/>
<circle cx="216.63" cy="777" r="1.6" fill="#a100e0"/>
<circle cx="232.23" cy="791.3" r="1.6" fill="#a100e0"/>
<circle cx="245.19" cy="791.3" r="1.6" fill="#a100e0"/>
<circle cx="254.72" cy="782.6" r="1.6" fill="#a100e0"/>
<circle cx="264.14" cy="781.6" r="1.6" fill="#a100e0"/>
<polyline points="201.23,818.7 216.63,826.3 232.23,841.3 245.19,817.3" fill="none" stroke="#a100e0" stroke-width="1.9" stroke-dasharray="4 2.4" stroke-dashoffset="-1"/>
<rect x="199.63" y="817.1" width="3.2" height="3.2" fill="#a100e0"/>
<rect x="215.03" y="824.7" width="3.2" height="3.2" fill="#a100e0"/>
<rect x="230.63" y="839.7" width="3.2" height="3.2" fill="#a100e0"/>
<rect x="243.59" y="815.7" width="3.2" height="3.2" fill="#a100e0"/>
<rect x="262.54" y="811.5" width="3.2" height="3.2" fill="#a100e0"/>
<path d="M282.9 754.6H286.7M295.4 754.6H297.2" stroke="#a100e0" stroke-width="1.8"/>
<path d="M288.35 753.1h2.6l2 1.5l-2 1.5h-2.6z" fill="#a100e0"/>
<text x="304.9" y="758.4" class="lg">1 DPI</text>
<path d="M282.9 770.1H297.2" stroke="#a100e0" stroke-width="1.4"/>
<path d="M290.05 768.3l1.4 1.8l-1.4 1.8l-1.4 -1.8z" fill="#a100e0"/>
<text x="304.9" y="773.9" class="lg">2 DPI</text>
<path d="M282.9 785.6H286.7M295.4 785.6H297.2" stroke="#ff7c00" stroke-width="1.8"/>
<path d="M288.35 784.1h2.6l2 1.5l-2 1.5h-2.6z" fill="#ff7c00"/>
<text x="304.9" y="789.4" class="lg">3 DPI</text>
<path d="M282.9 801.1H297.2" stroke="#ff7c00" stroke-width="1.4"/>
<path d="M290.05 799.3l1.4 1.8l-1.4 1.8l-1.4 -1.8z" fill="#ff7c00"/>
<text x="304.9" y="804.9" class="lg">4 DPI</text>
<path d="M282.9 816.6H286.7M295.4 816.6H297.2" stroke="#00c000" stroke-width="1.8"/>
<path d="M288.35 815.1h2.6l2 1.5l-2 1.5h-2.6z" fill="#00c000"/>
<text x="304.9" y="820.4" class="lg">5 DPI</text>
<path d="M282.9 832.1H297.2" stroke="#00c000" stroke-width="1.4"/>
<path d="M290.05 830.3l1.4 1.8l-1.4 1.8l-1.4 -1.8z" fill="#00c000"/>
<text x="304.9" y="835.9" class="lg">6 DPI</text>
<path d="M418.4 744.9V880.7H621.5" stroke="#000" stroke-width="1.6" fill="none"/>
<path d="M414.6 880.7H418.4M416.2 872.56H418.4M416.2 867.8H418.4M416.2 864.42H418.4M416.2 861.8H418.4M416.2 859.66H418.4M416.2 857.85H418.4M416.2 856.28H418.4M416.2 854.9H418.4M414.6 853.66H418.4M416.2 845.52H418.4M416.2 840.76H418.4M416.2 837.38H418.4M416.2 834.76H418.4M416.2 832.62H418.4M416.2 830.81H418.4M416.2 829.24H418.4M416.2 827.86H418.4M414.6 826.62H418.4M416.2 818.48H418.4M416.2 813.72H418.4M416.2 810.34H418.4M416.2 807.72H418.4M416.2 805.58H418.4M416.2 803.77H418.4M416.2 802.2H418.4M416.2 800.82H418.4M414.6 799.58H418.4M416.2 791.44H418.4M416.2 786.68H418.4M416.2 783.3H418.4M416.2 780.68H418.4M416.2 778.54H418.4M416.2 776.73H418.4M416.2 775.16H418.4M416.2 773.78H418.4M414.6 772.54H418.4M416.2 764.4H418.4M416.2 759.64H418.4M416.2 756.26H418.4M416.2 753.64H418.4M416.2 751.5H418.4M416.2 749.69H418.4M416.2 748.12H418.4M416.2 746.74H418.4M414.6 745.5H418.4M418.4 880.7V884.8M448.88 880.7V883M466.71 880.7V883M479.36 880.7V883M489.17 880.7V883M497.19 880.7V883M503.97 880.7V883M509.84 880.7V883M515.02 880.7V883M519.65 880.7V884.8M550.13 880.7V883M567.96 880.7V883M580.61 880.7V883M590.42 880.7V883M598.44 880.7V883M605.22 880.7V883M611.09 880.7V883M616.27 880.7V883M620.9 880.7V884.8" stroke="#000" stroke-width="1.15" fill="none"/>
<text x="411.7" y="884" class="tk" text-anchor="end">0.1</text>
<text x="411.7" y="856.96" class="tk" text-anchor="end">1</text>
<text x="411.7" y="829.92" class="tk" text-anchor="end">10</text>
<text x="411.7" y="802.88" class="tk" text-anchor="end">100</text>
<text x="411.7" y="775.84" class="tk" text-anchor="end">1000</text>
<text x="411.7" y="748.8" class="tk" text-anchor="end">10000</text>
<text x="418.4" y="895.7" class="tk" text-anchor="middle">0.1</text>
<text x="519.65" y="895.7" class="tk" text-anchor="middle">1</text>
<text x="620.9" y="895.7" class="tk" text-anchor="middle">10</text>
<text x="519.65" y="911.7" class="xt" text-anchor="middle">Particle diameter (μm)</text>
<text x="519.65" y="729.2" class="ti" style="font-size:13.04px" text-anchor="middle">ESP 14 kV - Air Downstream</text>
<text transform="translate(377.8,812.6) rotate(-90)" class="yl" text-anchor="middle">RNA copies/L air per log<tspan class="sub" dy="2.6">10</tspan><tspan dy="-2.6"> D_p</tspan></text>
<text transform="translate(351.2,710.1) scale(0.88,1)" class="lt">H</text>
<polyline points="532.81,840.9 553.16,829.3 568.55,816.9 584.15,819 597.11,806.6 606.62,802.3 616.04,795.6" fill="none" stroke="#00c000" stroke-width="1.25" stroke-linejoin="round"/>
<circle cx="532.81" cy="840.9" r="1.6" fill="#00c000"/>
<circle cx="553.16" cy="829.3" r="1.6" fill="#00c000"/>
<circle cx="568.55" cy="816.9" r="1.6" fill="#00c000"/>
<circle cx="584.15" cy="819" r="1.6" fill="#00c000"/>
<circle cx="597.11" cy="806.6" r="1.6" fill="#00c000"/>
<circle cx="606.62" cy="802.3" r="1.6" fill="#00c000"/>
<circle cx="616.04" cy="795.6" r="1.6" fill="#00c000"/>
<polyline points="532.81,829.2 553.16,829.6" fill="none" stroke="#a100e0" stroke-width="2.4" stroke-linejoin="round"/>
<circle cx="532.81" cy="829.2" r="1.6" fill="#a100e0"/>
<circle cx="553.16" cy="829.6" r="1.6" fill="#a100e0"/>
<rect x="566.95" y="806.9" width="3.2" height="3.2" fill="#a100e0"/>
<rect x="614.44" y="798.5" width="3.2" height="3.2" fill="#a100e0"/>
<path d="M574.1 790.2H587.5V787L594.2 793.55L587.5 800.1V796.9H574.1z" fill="#ed7d31"/>
<path d="M634.8 754.5H638.6M647.7 754.5H649.5" stroke="#a100e0" stroke-width="1.8"/>
<path d="M640.45 753h2.6l2 1.5l-2 1.5h-2.6z" fill="#a100e0"/>
<text x="657" y="758.3" class="lg">1 DPI</text>
<path d="M634.8 770H649.5" stroke="#a100e0" stroke-width="2.4"/>
<path d="M642.15 768.2l1.4 1.8l-1.4 1.8l-1.4 -1.8z" fill="#a100e0"/>
<text x="657" y="773.8" class="lg">2 DPI</text>
<path d="M634.8 785.5H638.6M647.7 785.5H649.5" stroke="#ff7c00" stroke-width="1.8"/>
<path d="M640.45 784h2.6l2 1.5l-2 1.5h-2.6z" fill="#ff7c00"/>
<text x="657" y="789.3" class="lg">3 DPI</text>
<path d="M634.8 801H649.5" stroke="#ff7c00" stroke-width="1.4"/>
<path d="M642.15 799.2l1.4 1.8l-1.4 1.8l-1.4 -1.8z" fill="#ff7c00"/>
<text x="657" y="804.8" class="lg">4 DPI</text>
<path d="M634.8 816.5H638.6M647.7 816.5H649.5" stroke="#00c000" stroke-width="1.8"/>
<path d="M640.45 815h2.6l2 1.5l-2 1.5h-2.6z" fill="#00c000"/>
<text x="657" y="820.3" class="lg">5 DPI</text>
<path d="M634.8 832H649.5" stroke="#00c000" stroke-width="1.4"/>
<path d="M642.15 830.2l1.4 1.8l-1.4 1.8l-1.4 -1.8z" fill="#00c000"/>
<text x="657" y="835.8" class="lg">6 DPI</text>
</svg>
</body></html>
